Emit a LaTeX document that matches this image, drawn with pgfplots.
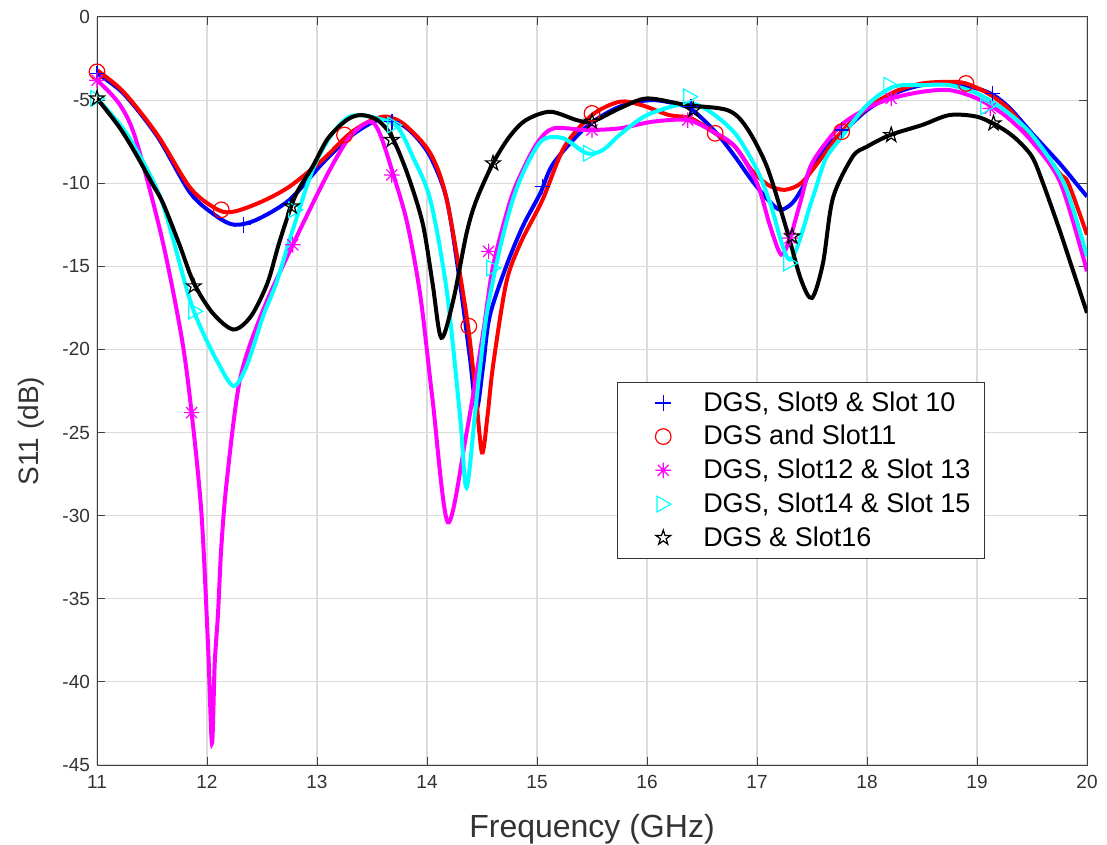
\documentclass[border=0pt]{standalone}
\usepackage{pgfplots}
\pgfplotsset{compat=1.18}
\usepackage{fontspec}
\setmainfont{Liberation Sans}
\definecolor{mblue}{RGB}{0,0,255}
\definecolor{mred}{RGB}{255,0,0}
\definecolor{mmag}{RGB}{255,0,255}
\definecolor{mcyan}{RGB}{0,255,255}
\pgfdeclareplotmark{ast8}{%
 \pgfpathmoveto{\pgfqpoint{-\pgfplotmarksize}{0pt}}\pgfpathlineto{\pgfqpoint{\pgfplotmarksize}{0pt}}%
 \pgfpathmoveto{\pgfqpoint{0pt}{-\pgfplotmarksize}}\pgfpathlineto{\pgfqpoint{0pt}{\pgfplotmarksize}}%
 \pgfpathmoveto{\pgfqpoint{-.707\pgfplotmarksize}{-.707\pgfplotmarksize}}\pgfpathlineto{\pgfqpoint{.707\pgfplotmarksize}{.707\pgfplotmarksize}}%
 \pgfpathmoveto{\pgfqpoint{-.707\pgfplotmarksize}{.707\pgfplotmarksize}}\pgfpathlineto{\pgfqpoint{.707\pgfplotmarksize}{-.707\pgfplotmarksize}}%
 \pgfusepathqstroke}
\pgfdeclareplotmark{pentagram}{%
 \pgfpathmoveto{\pgfqpointpolar{90}{\pgfplotmarksize}}%
 \pgfpathlineto{\pgfqpointpolar{126}{.382\pgfplotmarksize}}%
 \pgfpathlineto{\pgfqpointpolar{162}{\pgfplotmarksize}}%
 \pgfpathlineto{\pgfqpointpolar{198}{.382\pgfplotmarksize}}%
 \pgfpathlineto{\pgfqpointpolar{234}{\pgfplotmarksize}}%
 \pgfpathlineto{\pgfqpointpolar{270}{.382\pgfplotmarksize}}%
 \pgfpathlineto{\pgfqpointpolar{306}{\pgfplotmarksize}}%
 \pgfpathlineto{\pgfqpointpolar{342}{.382\pgfplotmarksize}}%
 \pgfpathlineto{\pgfqpointpolar{18}{\pgfplotmarksize}}%
 \pgfpathlineto{\pgfqpointpolar{54}{.382\pgfplotmarksize}}%
 \pgfpathclose\pgfusepathqstroke}
\pgfdeclareplotmark{triright}{%
 \pgfpathmoveto{\pgfqpoint{\pgfplotmarksize}{0pt}}%
 \pgfpathlineto{\pgfqpoint{-.8\pgfplotmarksize}{\pgfplotmarksize}}%
 \pgfpathlineto{\pgfqpoint{-.8\pgfplotmarksize}{-\pgfplotmarksize}}%
 \pgfpathclose\pgfusepathqstroke}
\begin{document}
\begin{tikzpicture}
\begin{axis}[
 scale only axis, width=495pt, height=374pt,
 xmin=11, xmax=20, ymin=-45, ymax=0,
 xtick={11,12,...,20}, ytick={-45,-40,...,0},
 grid=major, major grid style={black!14, line width=0.6pt},
 axis line style={black!75, line width=0.5pt},
 tick style={black!75, line width=0.5pt},
 tick align=inside, major tick length=4pt,
 /pgf/number format/assume math mode=true,
 ticklabel style={font=\fontsize{9.5}{11}\selectfont, text=black!80},
 xticklabel style={yshift=-1.5pt},
 xlabel={Frequency (GHz)}, ylabel={S11 (dB)},
 xlabel style={font=\fontsize{16}{18}\selectfont, text=black!80, yshift=-6pt},
 ylabel style={font=\fontsize{14}{16}\selectfont, text=black!80, xshift=-20pt, yshift=2pt},
 legend image code/.code={\path[draw=none,fill=none] (0pt,-3pt) rectangle (36pt,3pt);\draw[mark repeat=2,mark phase=2,#1] plot coordinates {(0pt,0pt)(18pt,0pt)(36pt,0pt)};},
 legend style={at={(rel axis cs:0.525,0.512)}, anchor=north west,
   font=\fontsize{13.5}{15}\selectfont, draw=black!80, line width=0.5pt,
   cells={anchor=west}, inner xsep=5pt, inner ysep=2.5pt, row sep=1.6pt},
 every axis plot/.append style={line width=2pt},
 mark size=3.9pt,
]
% curves
\addplot[mblue, smooth, tension=0.5, forget plot] coordinates {
(11.00,-3.4)(11.24,-4.6)(11.55,-7.2)(11.85,-10.6)(12.09,-12.0)(12.25,-12.5)(12.45,-12.2)(12.75,-11.0)(13.05,-8.8)(13.3,-7.2)(13.55,-6.2)(13.72,-6.3)(13.87,-7.0)(14.03,-8.4)(14.18,-11.0)(14.3,-16.0)(14.39,-20.5)(14.45,-23.6)(14.51,-21.0)(14.57,-18.0)(14.72,-15.0)(14.87,-12.6)(15.03,-10.6)(15.15,-8.8)(15.45,-6.6)(15.75,-5.4)(16.05,-5.0)(16.36,-5.4)(16.5,-6.1)(16.66,-7.2)(16.8,-8.4)(16.95,-9.8)(17.1,-11.0)(17.21,-11.6)(17.32,-11.2)(17.42,-10.2)(17.5,-9.0)(17.65,-7.7)(17.8,-6.8)(18.0,-5.6)(18.25,-4.6)(18.5,-4.1)(18.75,-4.0)(19.0,-4.3)(19.15,-4.7)(19.3,-5.5)(19.5,-7.0)(19.75,-8.8)(19.9,-10.0)(20.0,-10.8)};
\addplot[mred, smooth, tension=0.5, forget plot] coordinates {
(11.00,-3.2)(11.24,-4.5)(11.55,-7.1)(11.85,-10.3)(12.1,-11.6)(12.25,-11.7)(12.5,-11.1)(12.75,-10.2)(13.05,-8.6)(13.3,-7.0)(13.5,-6.2)(13.64,-6.0)(13.8,-6.5)(14.03,-8.2)(14.18,-11.0)(14.36,-18.0)(14.44,-22.5)(14.5,-26.2)(14.55,-24.0)(14.6,-21.0)(14.72,-16.0)(14.85,-13.6)(15.05,-11.0)(15.25,-7.8)(15.5,-5.9)(15.75,-5.1)(15.95,-5.3)(16.2,-5.9)(16.4,-6.1)(16.62,-7.0)(16.8,-7.8)(16.95,-9.2)(17.1,-10.1)(17.25,-10.4)(17.4,-10.0)(17.55,-8.8)(17.77,-6.9)(18.0,-5.5)(18.25,-4.5)(18.5,-4.0)(18.75,-3.9)(18.9,-4.0)(19.1,-4.6)(19.3,-5.6)(19.5,-7.3)(19.75,-9.4)(19.83,-10.0)(20.0,-13.1)};
\addplot[mmag, smooth, tension=0.5, forget plot] coordinates {
(11.00,-3.8)(11.2,-5.2)(11.35,-7.3)(11.59,-13.3)(11.77,-19.3)(11.86,-23.8)(11.95,-29.9)(12.01,-37.9)(12.045,-43.7)(12.07,-38.9)(12.1,-35.9)(12.13,-31.9)(12.18,-27.9)(12.3,-21.8)(12.5,-17.8)(12.78,-13.7)(13.1,-9.4)(13.3,-7.2)(13.48,-6.3)(13.57,-7.0)(13.69,-9.4)(13.82,-12.4)(13.94,-16.8)(14.05,-23.0)(14.19,-30.4)(14.36,-25.0)(14.51,-19.0)(14.6,-15.0)(14.75,-11.2)(14.85,-9.5)(15.0,-7.6)(15.15,-6.7)(15.45,-6.8)(15.75,-6.7)(16.05,-6.3)(16.37,-6.2)(16.6,-6.9)(16.8,-7.8)(17.0,-10.0)(17.12,-12.6)(17.22,-14.3)(17.3,-13.3)(17.4,-11.0)(17.5,-8.8)(17.75,-6.6)(18.0,-5.5)(18.22,-4.9)(18.5,-4.5)(18.75,-4.4)(19.0,-4.9)(19.25,-5.9)(19.5,-7.5)(19.76,-10.0)(20.0,-15.3)};
\addplot[mcyan, smooth, tension=0.5, forget plot] coordinates {
(11.00,-4.9)(11.2,-6.4)(11.35,-7.9)(11.59,-11.1)(11.83,-16.7)(11.95,-18.8)(12.1,-20.8)(12.24,-22.2)(12.36,-21.0)(12.51,-18.0)(12.63,-16.0)(12.78,-12.8)(12.96,-9.2)(13.12,-7.2)(13.27,-6.1)(13.39,-5.9)(13.55,-6.1)(13.73,-6.6)(13.87,-8.4)(14.03,-11.0)(14.18,-16.5)(14.3,-24.0)(14.36,-28.3)(14.45,-23.0)(14.54,-18.0)(14.66,-14.0)(14.78,-11.0)(14.9,-9.0)(15.05,-7.4)(15.24,-7.3)(15.45,-8.2)(15.6,-8.0)(15.75,-7.1)(16.0,-5.9)(16.36,-5.2)(16.55,-5.6)(16.8,-7.0)(17.0,-9.2)(17.12,-11.2)(17.3,-14.6)(17.5,-11.0)(17.62,-8.6)(17.76,-7.3)(18.0,-5.3)(18.24,-4.2)(18.5,-4.1)(18.75,-4.1)(19.0,-4.6)(19.25,-5.6)(19.5,-7.1)(19.79,-10.0)(20.0,-14.4)};
\addplot[black, smooth, tension=0.5, forget plot] coordinates {
(11.00,-4.9)(11.2,-6.6)(11.35,-8.2)(11.5,-10.0)(11.6,-11.2)(11.75,-13.7)(11.88,-16.0)(12.05,-17.8)(12.24,-18.8)(12.4,-18.0)(12.55,-16.0)(12.66,-13.5)(12.8,-10.8)(12.96,-9.0)(13.1,-7.3)(13.27,-6.2)(13.4,-5.9)(13.55,-6.2)(13.68,-7.2)(13.82,-9.4)(13.96,-12.4)(14.05,-16.0)(14.13,-19.3)(14.24,-17.0)(14.36,-13.0)(14.45,-11.0)(14.6,-8.8)(14.75,-7.2)(14.9,-6.2)(15.12,-5.7)(15.36,-6.2)(15.5,-6.3)(15.75,-5.5)(16.0,-4.9)(16.36,-5.3)(16.73,-5.6)(16.9,-6.6)(17.09,-9.0)(17.27,-12.8)(17.4,-15.8)(17.5,-16.9)(17.6,-14.8)(17.69,-10.9)(17.87,-8.4)(18.0,-7.8)(18.21,-7.1)(18.5,-6.5)(18.75,-5.9)(19.0,-6.0)(19.2,-6.6)(19.35,-7.3)(19.5,-8.4)(19.6,-10.0)(19.75,-12.8)(19.86,-15.0)(20.0,-17.8)};
% markers
\addplot[mblue, only marks, mark=+, mark options={line width=0.7pt}] coordinates {
(11,-3.4)(12.33,-12.5)(13.68,-6.3)(15.05,-10.2)(16.4,-5.4)(17.77,-6.8)(19.14,-4.6)};
\addlegendentry{DGS, Slot9 \& Slot 10}
\addplot[mred, only marks, mark=o, mark options={line width=0.6pt}] coordinates {
(11,-3.3)(12.13,-11.6)(13.25,-7.1)(14.38,-18.6)(15.5,-5.8)(16.62,-7.0)(17.77,-6.9)(18.9,-4.0)};
\addlegendentry{DGS and Slot11}
\addplot[mmag, only marks, mark=ast8, mark options={line width=0.6pt}] coordinates {
(11,-3.8)(11.86,-23.8)(12.78,-13.7)(13.68,-9.5)(14.56,-14.1)(15.5,-6.8)(16.37,-6.2)(17.3,-13.3)(18.22,-4.9)(19.12,-5.5)};
\addlegendentry{DGS, Slot12 \& Slot 13}
\addplot[mcyan, only marks, mark=triright, mark options={line width=0.6pt}] coordinates {
(11,-4.9)(11.89,-17.7)(12.8,-11.6)(13.7,-6.5)(14.6,-15.1)(15.48,-8.2)(16.39,-4.8)(17.3,-14.8)(18.21,-4.1)(19.09,-5.4)};
\addlegendentry{DGS, Slot14 \& Slot 15}
\addplot[black, only marks, mark=pentagram, mark options={line width=0.6pt}] coordinates {
(11,-4.9)(11.88,-16.2)(12.77,-11.4)(13.68,-7.4)(14.6,-8.8)(15.5,-6.3)(16.42,-5.6)(17.32,-13.2)(18.22,-7.1)(19.15,-6.4)};
\addlegendentry{DGS \& Slot16}
\end{axis}
\pgfresetboundingbox
\path ([shift={(-48.5pt,-39.5pt)}]current axis.south west) rectangle ([shift={(10pt,8.5pt)}]current axis.north east);
\end{tikzpicture}
\end{document}
